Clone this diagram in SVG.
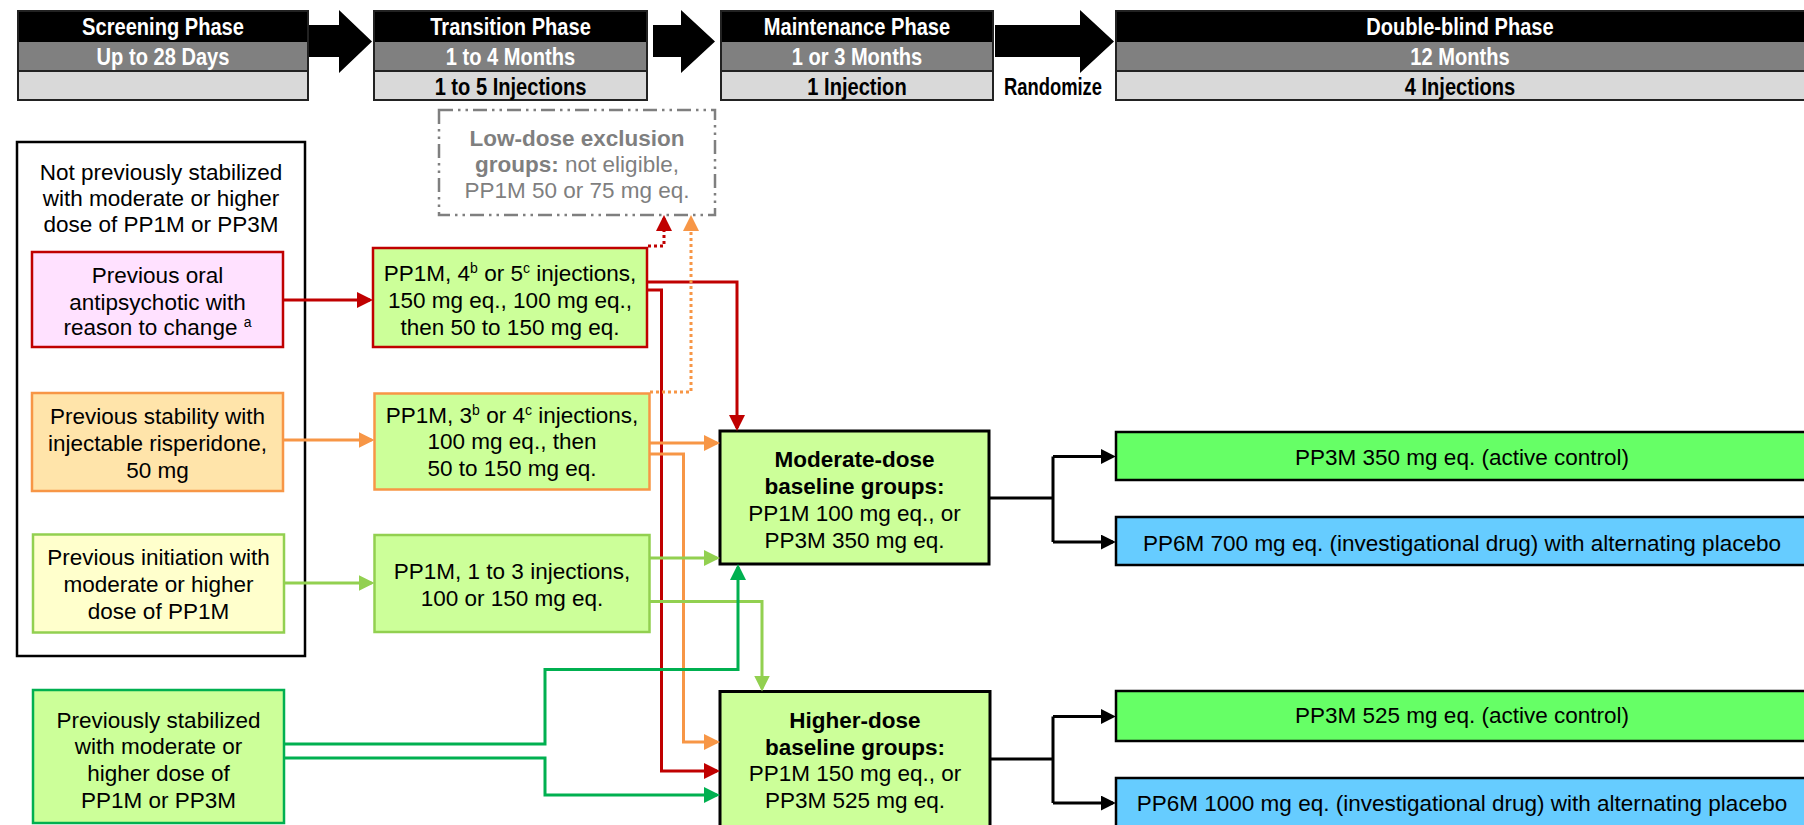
<svg xmlns="http://www.w3.org/2000/svg" width="1804" height="825" viewBox="0 0 1804 825">
<style>
.hd{font-family:"Liberation Sans",Arial,sans-serif;font-weight:bold;font-size:24.5px;text-anchor:middle}
.w{fill:#ffffff}
.k{fill:#000000}
.t{font-family:"Liberation Sans",Arial,sans-serif;font-size:22.5px;text-anchor:middle;fill:#000}
.g{fill:#7f7f7f}
.b{font-weight:bold}
.sup{font-size:14px}
.box{stroke-width:2.5}
.ln{fill:none;stroke-width:3}
.red{stroke:#c00000}
.org{stroke:#f79646}
.lg{stroke:#92d050}
.grn{stroke:#00b050}
.blk{stroke:#000}
.dot{stroke-dasharray:3 3}
</style>
<defs>
<marker id="mr" viewBox="0 0 16 16" refX="13" refY="8" markerWidth="16" markerHeight="16" markerUnits="userSpaceOnUse" orient="auto"><path d="M0,0 L16,8 L0,16 z" fill="#c00000"/></marker>
<marker id="mo" viewBox="0 0 16 16" refX="13" refY="8" markerWidth="16" markerHeight="16" markerUnits="userSpaceOnUse" orient="auto"><path d="M0,0 L16,8 L0,16 z" fill="#f79646"/></marker>
<marker id="ml" viewBox="0 0 16 16" refX="13" refY="8" markerWidth="16" markerHeight="16" markerUnits="userSpaceOnUse" orient="auto"><path d="M0,0 L16,8 L0,16 z" fill="#92d050"/></marker>
<marker id="mg" viewBox="0 0 16 16" refX="13" refY="8" markerWidth="16" markerHeight="16" markerUnits="userSpaceOnUse" orient="auto"><path d="M0,0 L16,8 L0,16 z" fill="#00b050"/></marker>
<marker id="mk" viewBox="0 0 16 16" refX="13" refY="8" markerWidth="15" markerHeight="15" markerUnits="userSpaceOnUse" orient="auto"><path d="M0,0 L16,8 L0,16 z" fill="#000"/></marker>
</defs>
<rect width="1804" height="825" fill="#fff"/>

<g id="header">
  <g id="h-screening">
    <rect x="18" y="11" width="290" height="31" fill="#000"/>
    <rect x="18" y="42" width="290" height="29" fill="#808080"/>
    <rect x="18" y="71" width="290" height="29" fill="#d9d9d9"/>
    <rect x="18" y="11" width="290" height="89" fill="none" stroke="#222" stroke-width="2"/>
    <line x1="18" y1="71" x2="308" y2="71" stroke="#222" stroke-width="2"/>
    <text class="hd w" transform="translate(163 35) scale(0.82 1)">Screening Phase</text>
    <text class="hd w" transform="translate(163 65) scale(0.82 1)">Up to 28 Days</text>
  </g>
  <g id="h-transition">
    <rect x="374" y="11" width="273" height="31" fill="#000"/>
    <rect x="374" y="42" width="273" height="29" fill="#808080"/>
    <rect x="374" y="71" width="273" height="29" fill="#d9d9d9"/>
    <rect x="374" y="11" width="273" height="89" fill="none" stroke="#222" stroke-width="2"/>
    <line x1="374" y1="71" x2="647" y2="71" stroke="#222" stroke-width="2"/>
    <text class="hd w" transform="translate(510.5 35) scale(0.82 1)">Transition Phase</text>
    <text class="hd w" transform="translate(510.5 65) scale(0.82 1)">1 to 4 Months</text>
    <text class="hd k" transform="translate(510.5 94.5) scale(0.82 1)">1 to 5 Injections</text>
  </g>
  <g id="h-maintenance">
    <rect x="721" y="11" width="272" height="31" fill="#000"/>
    <rect x="721" y="42" width="272" height="29" fill="#808080"/>
    <rect x="721" y="71" width="272" height="29" fill="#d9d9d9"/>
    <rect x="721" y="11" width="272" height="89" fill="none" stroke="#222" stroke-width="2"/>
    <line x1="721" y1="71" x2="993" y2="71" stroke="#222" stroke-width="2"/>
    <text class="hd w" transform="translate(857 35) scale(0.82 1)">Maintenance Phase</text>
    <text class="hd w" transform="translate(857 65) scale(0.82 1)">1 or 3 Months</text>
    <text class="hd k" transform="translate(857 94.5) scale(0.82 1)">1 Injection</text>
  </g>
  <g id="h-doubleblind">
    <rect x="1116" y="11" width="700" height="31" fill="#000"/>
    <rect x="1116" y="42" width="700" height="29" fill="#808080"/>
    <rect x="1116" y="71" width="700" height="29" fill="#d9d9d9"/>
    <rect x="1116" y="11" width="700" height="89" fill="none" stroke="#222" stroke-width="2"/>
    <line x1="1116" y1="71" x2="1816" y2="71" stroke="#222" stroke-width="2"/>
    <text class="hd w" transform="translate(1460 35) scale(0.82 1)">Double-blind Phase</text>
    <text class="hd w" transform="translate(1460 65) scale(0.82 1)">12 Months</text>
    <text class="hd k" transform="translate(1460 94.5) scale(0.82 1)">4 Injections</text>
  </g>
  <g id="h-arrows" fill="#000">
    <polygon points="309,25 339,25 339,10 372,41.5 339,73 339,57 309,57"/>
    <polygon points="653,25 681,25 681,10 715,41.5 681,73 681,57 653,57"/>
    <polygon points="995,25 1080,25 1080,10 1114,41.5 1080,73 1080,57 995,57"/>
  </g>
  <text id="randomize" class="hd k" transform="translate(1053 94.5) scale(0.8 1)" style="font-size:23px">Randomize</text>
</g>

<g id="n-notprev">
  <rect x="17" y="142" width="288" height="514" fill="#fff" stroke="#000" class="box"/>
  <text class="t" x="161" y="180">Not previously stabilized</text>
  <text class="t" x="161" y="206">with moderate or higher</text>
  <text class="t" x="161" y="232">dose of PP1M or PP3M</text>
</g>
<g id="n-oral">
  <rect x="32" y="252" width="251" height="95" fill="#ffe1ff" stroke="#c00000" class="box"/>
  <text class="t" x="157.5" y="283">Previous oral</text>
  <text class="t" x="157.5" y="309.5">antipsychotic with</text>
  <text class="t" x="157.5" y="335">reason to change <tspan class="sup" dy="-8">a</tspan></text>
</g>
<g id="n-risp">
  <rect x="32" y="393" width="251" height="98" fill="#ffe4aa" stroke="#f79646" class="box"/>
  <text class="t" x="157.5" y="424">Previous stability with</text>
  <text class="t" x="157.5" y="451">injectable risperidone,</text>
  <text class="t" x="157.5" y="478">50 mg</text>
</g>
<g id="n-init">
  <rect x="33" y="534.5" width="251" height="98" fill="#ffffcc" stroke="#92d050" class="box"/>
  <text class="t" x="158.5" y="565">Previous initiation with</text>
  <text class="t" x="158.5" y="592">moderate or higher</text>
  <text class="t" x="158.5" y="619">dose of PP1M</text>
</g>
<g id="n-stab">
  <rect x="33" y="690" width="251" height="133" fill="#ccff99" stroke="#00b050" class="box"/>
  <text class="t" x="158.5" y="728">Previously stabilized</text>
  <text class="t" x="158.5" y="754">with moderate or</text>
  <text class="t" x="158.5" y="781">higher dose of</text>
  <text class="t" x="158.5" y="808">PP1M or PP3M</text>
</g>

<g id="n-t1">
  <rect x="373" y="248" width="274" height="99" fill="#ccff99" stroke="#c00000" class="box"/>
  <text class="t" x="510" y="281">PP1M, 4<tspan class="sup" dy="-8">b</tspan><tspan dy="8"> or 5</tspan><tspan class="sup" dy="-8">c</tspan><tspan dy="8"> injections,</tspan></text>
  <text class="t" x="510" y="308">150 mg eq., 100 mg eq.,</text>
  <text class="t" x="510" y="335">then 50 to 150 mg eq.</text>
</g>
<g id="n-t2">
  <rect x="374.5" y="393.5" width="275" height="96" fill="#ccff99" stroke="#f79646" class="box"/>
  <text class="t" x="512" y="423">PP1M, 3<tspan class="sup" dy="-8">b</tspan><tspan dy="8"> or 4</tspan><tspan class="sup" dy="-8">c</tspan><tspan dy="8"> injections,</tspan></text>
  <text class="t" x="512" y="449">100 mg eq., then</text>
  <text class="t" x="512" y="476">50 to 150 mg eq.</text>
</g>
<g id="n-t3">
  <rect x="374.5" y="535" width="275" height="97" fill="#ccff99" stroke="#92d050" class="box"/>
  <text class="t" x="512" y="579">PP1M, 1 to 3 injections,</text>
  <text class="t" x="512" y="605.5">100 or 150 mg eq.</text>
</g>
<g id="n-excl">
  <rect x="439" y="110" width="276" height="105" fill="#fff" stroke="#7f7f7f" stroke-width="2.5" stroke-dasharray="14 5 2.5 5 2.5 5"/>
  <text class="t g b" x="577" y="146">Low-dose exclusion</text>
  <text class="t g" x="577" y="171.5"><tspan class="b">groups:</tspan> not eligible,</text>
  <text class="t g" x="577" y="198">PP1M 50 or 75 mg eq.</text>
</g>

<g id="n-moderate">
  <rect x="720" y="431" width="269" height="133" fill="#ccff99" stroke="#000" stroke-width="3"/>
  <text class="t b" x="854.5" y="467">Moderate-dose</text>
  <text class="t b" x="854.5" y="494">baseline groups:</text>
  <text class="t" x="854.5" y="521">PP1M 100 mg eq., or</text>
  <text class="t" x="854.5" y="548">PP3M 350 mg eq.</text>
</g>
<g id="n-higher">
  <rect x="720" y="691.5" width="270" height="145" fill="#ccff99" stroke="#000" stroke-width="3"/>
  <text class="t b" x="855" y="728">Higher-dose</text>
  <text class="t b" x="855" y="754.5">baseline groups:</text>
  <text class="t" x="855" y="781">PP1M 150 mg eq., or</text>
  <text class="t" x="855" y="808">PP3M 525 mg eq.</text>
</g>

<g id="n-r1">
  <rect x="1116" y="432" width="700" height="48" fill="#66ff66" stroke="#000" stroke-width="2.5"/>
  <text class="t" x="1462" y="464.5">PP3M 350 mg eq. (active control)</text>
</g>
<g id="n-r2">
  <rect x="1116" y="517" width="700" height="48" fill="#66ccff" stroke="#000" stroke-width="2.5"/>
  <text class="t" x="1462" y="551">PP6M 700 mg eq. (investigational drug) with alternating placebo</text>
</g>
<g id="n-r3">
  <rect x="1116" y="691" width="700" height="50" fill="#66ff66" stroke="#000" stroke-width="2.5"/>
  <text class="t" x="1462" y="723">PP3M 525 mg eq. (active control)</text>
</g>
<g id="n-r4">
  <rect x="1116" y="778" width="700" height="60" fill="#66ccff" stroke="#000" stroke-width="2.5"/>
  <text class="t" x="1462" y="811">PP6M 1000 mg eq. (investigational drug) with alternating placebo</text>
</g>

<g id="connectors">
  <path class="ln red" d="M283,300 H370" marker-end="url(#mr)"/>
  <path class="ln red" d="M647,282 H737 V428" marker-end="url(#mr)"/>
  <path class="ln red" d="M647,290 H661.5 V771 H717" marker-end="url(#mr)"/>
  <path class="ln red dot" d="M648,246 H664 V218" marker-end="url(#mr)"/>

  <path class="ln org" d="M283,440 H371.5" marker-end="url(#mo)"/>
  <path class="ln org" d="M650,443 H717" marker-end="url(#mo)"/>
  <path class="ln org" d="M650,454 H683.5 V742 H717" marker-end="url(#mo)"/>
  <path class="ln org dot" d="M650,392 H691 V218" marker-end="url(#mo)"/>

  <path class="ln lg" d="M284.5,583 H371.5" marker-end="url(#ml)"/>
  <path class="ln lg" d="M650,558 H717" marker-end="url(#ml)"/>
  <path class="ln lg" d="M650,601.5 H762 V688.5" marker-end="url(#ml)"/>

  <path class="ln grn" d="M284,744 H545 V669.5 H738 V567" marker-end="url(#mg)"/>
  <path class="ln grn" d="M284,758 H545 V795 H717" marker-end="url(#mg)"/>

  <path class="ln blk" d="M989,498 H1053 M1053,456.5 V542"/>
  <path class="ln blk" d="M1053,456.5 H1113" marker-end="url(#mk)"/>
  <path class="ln blk" d="M1053,542 H1113" marker-end="url(#mk)"/>
  <path class="ln blk" d="M990,759 H1053 M1053,716.5 V803"/>
  <path class="ln blk" d="M1053,716.5 H1113" marker-end="url(#mk)"/>
  <path class="ln blk" d="M1053,803 H1113" marker-end="url(#mk)"/>
</g>
</svg>
